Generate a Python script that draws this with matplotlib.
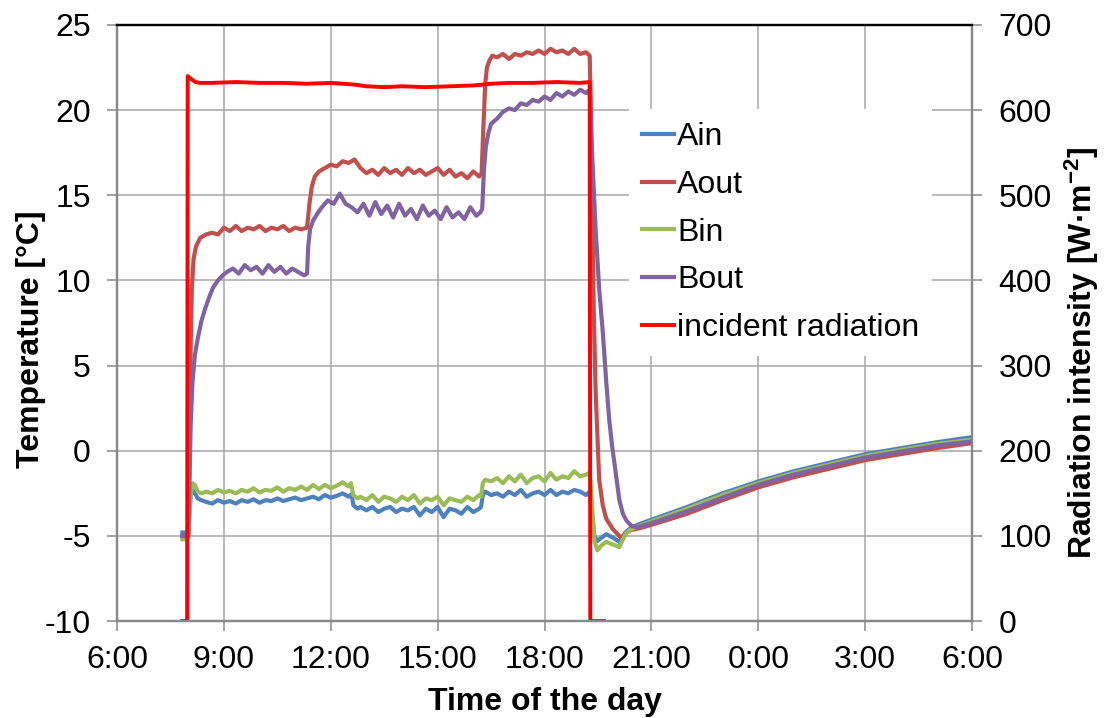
import matplotlib
matplotlib.use("Agg")
import matplotlib.pyplot as plt
import numpy as np

plt.rcParams["font.family"] = ["Liberation Sans", "DejaVu Sans"]
plt.rcParams["axes.unicode_minus"] = False
plt.rcParams["mathtext.default"] = "regular"

# time in minutes after 6:00 (0 = 6:00, 1440 = 6:00 next day)
TICK_LABELS = ["6:00", "9:00", "12:00", "15:00", "18:00", "21:00", "0:00", "3:00", "6:00"]

T_AIN = [110, 118, 120, 122, 124, 127, 131, 136, 142,
         150, 160, 170, 180, 190, 200, 210, 220, 230, 240, 250, 260, 270, 280, 290,
         300, 310, 320, 330, 340, 350, 360, 370, 380, 390, 395,
         398, 405, 410, 420, 430, 440, 450, 460, 470, 480, 490, 500, 510, 520, 530,
         540, 550, 560, 570, 580, 590, 600, 610, 613,
         616, 620, 630, 640, 650, 660, 670, 680, 690, 700, 710, 720, 730, 740, 750,
         760, 770, 780, 790, 796,
         800, 804, 809, 816, 824, 835, 846, 856, 866, 880, 900, 960, 1020, 1080,
         1140, 1200, 1260, 1320, 1380, 1440]
AIN = [-4.8, -4.8, -4.9, -3.6, -2.6, -2.3, -2.5, -2.8, -2.9,
       -3.0, -3.1, -2.9, -3.05, -2.95, -3.1, -2.9, -3.0, -2.85, -3.05, -2.9, -2.95, -2.8, -2.95, -2.85,
       -2.75, -2.9, -2.8, -2.7, -2.85, -2.6, -2.75, -2.65, -2.5, -2.7, -2.55,
       -3.2, -3.4, -3.3, -3.5, -3.3, -3.6, -3.4, -3.3, -3.6, -3.4, -3.5, -3.3, -3.8, -3.4, -3.6,
       -3.3, -3.9, -3.4, -3.5, -3.7, -3.3, -3.6, -3.4, -3.3,
       -2.6, -2.4, -2.6, -2.5, -2.7, -2.4, -2.6, -2.3, -2.7, -2.5, -2.4, -2.6, -2.3, -2.6, -2.4,
       -2.5, -2.3, -2.4, -2.6, -2.4,
       -3.8, -5.0, -5.3, -5.1, -4.9, -5.1, -5.35, -4.8, -4.5, -4.3, -4.05, -3.3, -2.5, -1.8,
       -1.2, -0.7, -0.2, 0.15, 0.5, 0.8]

T_AOUT = [110, 118, 120, 122, 124, 126, 129, 133, 140,
          150, 160, 170, 180, 190, 200, 210, 220, 230, 240, 250, 260, 270, 280, 290, 300, 310, 320,
          324, 328, 333, 340,
          350, 360, 370, 380, 390, 400, 410, 420, 430, 440, 450, 460, 470, 480, 490,
          500, 510, 520, 530, 540, 550, 560, 570, 580, 590, 600, 610, 614,
          617, 620, 623, 627, 632,
          640, 650, 660, 670, 680, 690, 700, 710, 720, 730, 740, 750, 760, 770, 780, 790, 796,
          798, 800, 803, 806, 808, 812, 818, 824, 835, 846, 852, 858, 866, 880, 900,
          960, 1020, 1080, 1140, 1200, 1260, 1320, 1380, 1440]
AOUT = [-5.0, -5.0, -5.0, 0.0, 6.0, 9.5, 11.3, 12.0, 12.5,
        12.7, 12.8, 12.7, 13.1, 12.9, 13.2, 12.9, 13.1, 13.0, 13.2, 12.9, 13.1, 13.0, 13.2, 12.9, 13.1, 13.0, 13.1,
        14.5, 15.5, 16.1, 16.4,
        16.6, 16.8, 16.7, 17.0, 16.9, 17.1, 16.6, 16.3, 16.5, 16.2, 16.6, 16.3, 16.5, 16.2, 16.6,
        16.3, 16.5, 16.2, 16.4, 16.6, 16.2, 16.5, 16.1, 16.3, 16.0, 16.4, 16.1, 16.3,
        19.0, 21.5, 22.5, 22.9, 23.2,
        23.1, 23.3, 23.0, 23.3, 23.2, 23.4, 23.3, 23.5, 23.3, 23.6, 23.4, 23.5, 23.3, 23.6, 23.3, 23.4, 23.2,
        20.0, 15.0, 8.0, 3.5, 1.8, -1.7, -3.2, -4.0, -4.6, -5.0, -5.1, -4.8, -4.65, -4.55, -4.35,
        -3.7, -2.9, -2.15, -1.55, -1.05, -0.55, -0.2, 0.15, 0.45]

T_BIN = [110, 118, 120, 122, 124, 127, 131, 136, 142,
         150, 160, 170, 180, 190, 200, 210, 220, 230, 240, 250, 260, 270, 280, 290,
         300, 310, 320, 330, 340, 350, 360, 370, 380, 390, 394,
         398, 405, 410, 420, 430, 440, 450, 460, 470, 480, 490, 500, 510, 520, 530,
         540, 550, 560, 570, 580, 590, 600, 610, 613,
         616, 620, 630, 640, 650, 660, 670, 680, 690, 700, 710, 720, 730, 740, 750,
         760, 770, 780, 790, 796,
         800, 804, 809, 816, 824, 835, 846, 852, 858, 866, 880, 900, 960, 1020, 1080,
         1140, 1200, 1260, 1320, 1380, 1440]
BIN = [-5.2, -5.2, -5.1, -3.8, -2.6, -1.9, -2.0, -2.4, -2.5,
       -2.4, -2.5, -2.3, -2.45, -2.35, -2.5, -2.3, -2.4, -2.2, -2.45, -2.3, -2.35, -2.15, -2.4, -2.2,
       -2.3, -2.1, -2.3, -2.0, -2.25, -2.0, -2.2, -2.05, -1.85, -2.1, -1.9,
       -2.6, -2.8, -2.7, -2.9, -2.6, -3.0, -2.7, -2.8, -3.0, -2.7, -2.9, -2.6, -3.1, -2.8, -2.9,
       -2.7, -3.2, -2.8, -2.9, -3.0, -2.7, -2.9, -2.6, -2.7,
       -1.9, -1.7, -1.8, -1.6, -1.9, -1.5, -1.8, -1.4, -1.9, -1.6, -1.5, -1.8, -1.3, -1.7, -1.5,
       -1.6, -1.2, -1.5, -1.4, -1.3,
       -3.2, -5.3, -5.85, -5.55, -5.35, -5.5, -5.65, -5.2, -4.8, -4.6, -4.4, -4.15, -3.4, -2.6, -1.9,
       -1.3, -0.8, -0.3, 0.05, 0.4, 0.65]

T_BOUT = [110, 120, 122, 124, 127, 131, 136, 142, 148, 155, 162, 170, 178, 185, 195,
          205, 215, 225, 235, 245, 255, 265, 275, 285, 295, 305, 315, 320,
          322, 325, 330, 337, 345, 355,
          365, 375, 385, 395, 405, 415, 425, 435, 445, 455, 465, 475, 485, 495, 505,
          515, 525, 535, 545, 555, 565, 575, 585, 595, 605, 612,
          615, 618, 621, 625, 630,
          640, 650, 660, 670, 680, 690, 700, 710, 720, 730, 740, 750, 760, 770, 780, 790, 796,
          800, 806, 812, 818, 824, 829, 834, 838, 846, 852, 858, 866, 875, 900,
          960, 1020, 1080, 1140, 1200, 1260, 1320, 1380, 1440]
BOUT = [-5.0, -5.0, -2.0, 1.5, 4.0, 5.6, 6.6, 7.6, 8.3, 9.0, 9.6, 10.0, 10.3, 10.5, 10.7,
        10.4, 10.9, 10.6, 10.8, 10.4, 10.9, 10.5, 10.8, 10.4, 10.7, 10.5, 10.3, 10.4,
        12.0, 13.0, 13.5, 13.9, 14.3, 14.7,
        14.5, 15.1, 14.5, 14.3, 14.0, 14.5, 13.8, 14.6, 13.9, 14.4, 13.7, 14.5, 13.8, 14.2, 13.6,
        14.4, 13.8, 14.1, 13.6, 14.3, 13.7, 14.0, 13.6, 14.3, 13.8, 14.0,
        14.2, 16.5, 17.8, 18.6, 19.2,
        19.5, 19.9, 20.1, 20.0, 20.4, 20.3, 20.6, 20.5, 20.8, 20.6, 21.0, 20.8, 21.1, 20.9, 21.2, 21.0, 21.2,
        17.5, 13.0, 9.5, 7.0, 4.0, 1.8, 0.2, -0.8, -2.9, -3.7, -4.1, -4.4, -4.5, -4.25,
        -3.55, -2.75, -2.0, -1.4, -0.9, -0.4, -0.05, 0.3, 0.55]

T_RAD = [110, 118, 119, 124, 132, 140, 160, 200, 240, 280, 320, 360, 380, 400,
         420, 450, 480, 520, 560, 600, 630, 660, 700, 740, 780, 796, 797, 820]
RAD = [0, 0, 640, 637, 633, 632, 632, 633, 632, 632, 631, 632, 631, 630,
       628, 627, 628, 627, 628, 629, 631, 632, 632, 633, 632, 633, 0, 0]

SERIES = [
    ("Ain", T_AIN, AIN, "#4F81BD"),
    ("Aout", T_AOUT, AOUT, "#C0504D"),
    ("Bin", T_BIN, BIN, "#9BBB59"),
    ("Bout", T_BOUT, BOUT, "#8064A2"),
]

FS = 23
GRID = "#A6A6A6"
SPINE = "#888888"

fig = plt.figure(figsize=(11.04, 7.18), dpi=100)
ax = fig.add_axes([0.106, 0.135, 0.7745, 0.8302])
ax2 = ax.twinx()

handles = []
for name, t, v, c in SERIES:
    h, = ax.plot(np.array(t) / 60.0, v, color=c, lw=3.0, label=name)
    handles.append(h)

h, = ax2.plot(np.array(T_RAD) / 60.0, RAD, color="#FF0000", lw=2.8, label="incident radiation")
handles.append(h)

ax.set_xlim(0, 24)
ax.set_ylim(-10, 25)
ax2.set_ylim(0, 700)
ax.set_xticks(np.arange(0, 25, 3))
ax.set_xticklabels(TICK_LABELS)
ax.set_yticks(np.arange(-10, 26, 5))
ax2.set_yticks(np.arange(0, 701, 100))

ax.grid(True, color=GRID, lw=1.1)
ax.set_axisbelow(True)

for a in (ax, ax2):
    for side in ("left", "right", "bottom"):
        a.spines[side].set_color(SPINE)
        a.spines[side].set_linewidth(1.6)
    a.spines["top"].set_color("black")
    a.spines["top"].set_linewidth(1.6)
    a.tick_params(axis="both", colors=SPINE, labelcolor="black", labelsize=FS,
                  length=7, width=1.1, direction="out")

ax.tick_params(axis="y", pad=12)
ax2.tick_params(axis="y", pad=12)
ax.tick_params(axis="x", pad=10)

ax.set_xlabel("Time of the day", fontsize=FS, fontweight="bold", labelpad=9)
ax.set_ylabel("Temperature [°C]", fontsize=FS, fontweight="bold", labelpad=-1)
ax2.set_ylabel(r"Radiation intensity [W·m$^{-2}$]", fontsize=FS, fontweight="bold", labelpad=8)
# both axis titles sit a little below the axes centre in the original
ax.yaxis.label.set_y(0.473)
ax2.yaxis.label.set_y(0.451)

leg = ax2.legend(handles=handles, loc="upper left", bbox_to_anchor=(0.599, 0.859),
                 borderaxespad=0, fontsize=FS, frameon=True, fancybox=False,
                 handlelength=1.0, handletextpad=0.1, labelspacing=0.56, borderpad=0.4)
leg.get_frame().set_facecolor("white")
leg.get_frame().set_edgecolor("none")
leg.get_frame().set_alpha(1)

fig.savefig("out.png", dpi=100)
